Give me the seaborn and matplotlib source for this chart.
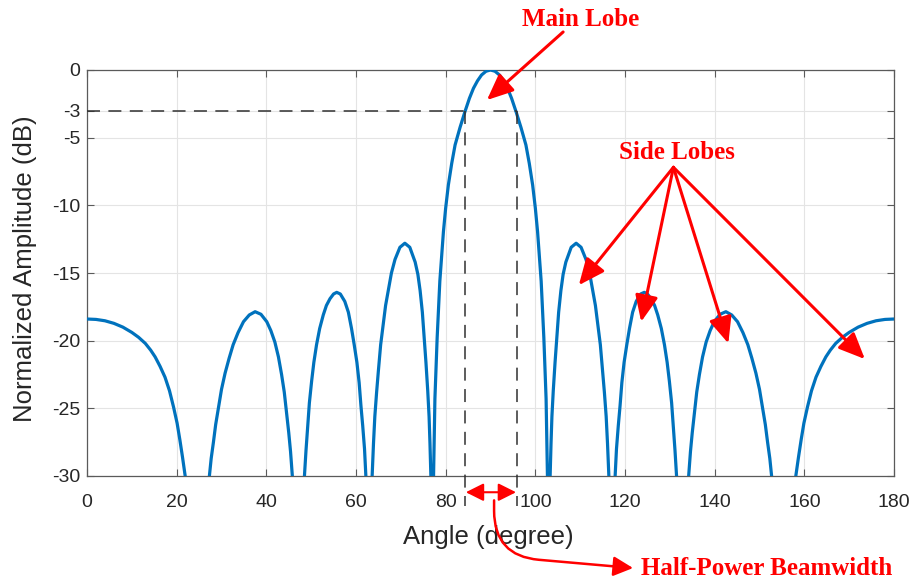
import matplotlib
matplotlib.use("Agg")
import matplotlib.pyplot as plt
import pandas as pd
import seaborn as sns

# ---- data ----
# left half of the pattern (0 .. 90 degrees); -45 marks nulls below the axis floor
angle_left = [0.0, 2.0, 4.0, 6.0, 8.0, 10.0, 11.5, 13.0, 14.2, 15.2, 16.3, 17.4, 18.4, 19.3,
              20.1, 20.7, 21.3, 21.9, 24.6,
              27.3, 27.7, 28.2, 28.7, 29.3, 30.0, 30.8, 31.7, 32.6, 33.7, 34.9, 36.2, 37.5,
              38.8, 40.1, 41.0, 41.9, 42.7, 43.4, 44.0, 44.5, 45.0, 45.4, 45.8, 47.1,
              48.5, 48.85, 49.2, 49.6, 50.1, 50.6, 51.2, 51.9, 52.7, 53.4, 54.2, 55.0, 55.7,
              56.5, 57.5, 58.3, 59.0, 59.6, 60.2, 60.7, 61.1, 61.5, 61.9, 62.2, 62.9,
              63.6, 63.9, 64.2, 64.6, 65.0, 65.5, 66.1, 66.6, 67.2, 67.9, 68.7, 69.8, 70.9,
              72.0, 73.2, 73.8, 74.3, 74.8, 75.2, 75.6, 76.0, 76.3, 76.5, 76.7, 77.0,
              77.3, 77.6, 78.1, 78.7, 79.5, 80.0, 80.6, 81.35, 82.1, 83.2, 84.3, 85.3, 86.2,
              87.1, 88.0, 89.0, 90.0]
amp_left = [-18.40, -18.43, -18.53, -18.72, -19.0, -19.39, -19.75, -20.2, -20.7, -21.2, -21.9, -22.7, -23.7, -24.9,
            -26.1, -27.3, -28.6, -30.0, -45.0,
            -30.0, -28.7, -27.5, -26.2, -25.0, -23.6, -22.4, -21.3, -20.3, -19.4, -18.6, -18.1, -17.86,
            -18.05, -18.6, -19.25, -20.1, -21.2, -22.5, -23.8, -25.3, -26.8, -28.2, -30.0, -45.0,
            -30.0, -28.1, -26.5, -24.6, -23.0, -21.6, -20.3, -19.1, -18.1, -17.4, -16.9, -16.55, -16.43,
            -16.55, -17.1, -17.9, -19.1, -20.3, -21.6, -23.1, -24.8, -26.3, -28.0, -30.0, -45.0,
            -30.0, -27.6, -25.6, -23.8, -22.2, -20.3, -18.7, -17.4, -16.3, -15.0, -14.0, -13.1, -12.8,
            -13.1, -14.2, -15.1, -16.3, -17.9, -19.7, -21.6, -23.7, -25.6, -27.6, -30.0, -45.0,
            -30.0, -24.3, -19.8, -15.6, -11.95, -10.2, -8.5, -6.9, -5.54, -4.25, -3.08, -2.09, -1.35,
            -0.80, -0.37, -0.09, 0.0]
# right half of the pattern (90 .. 180 degrees)
angle_right = [91.0, 92.0, 92.9, 93.8, 94.7, 95.7, 96.8, 97.9, 98.65, 99.4, 100.0, 100.5, 101.3,
               101.9, 102.4, 102.7, 103.0,
               103.3, 103.5, 103.7, 104.0, 104.4, 104.8, 105.2, 105.7, 106.2, 106.8, 108.0, 109.1,
               110.2, 111.3, 112.1, 112.8, 113.4, 113.9, 114.5, 115.0, 115.4, 115.8, 116.1, 116.4, 117.1,
               117.8, 118.1, 118.5, 118.9, 119.3, 119.8, 120.4, 121.0, 121.7, 122.5, 123.5, 124.3,
               125.0, 125.8, 126.6, 127.3, 128.1, 128.8, 129.4, 129.9, 130.4, 130.8, 131.15, 131.5, 132.9,
               134.2, 134.6, 135.0, 135.5, 136.0, 136.6, 137.3, 138.1, 139.0, 139.9, 141.2, 142.5,
               143.8, 145.1, 146.3, 147.4, 148.3, 149.2, 150.0, 150.7, 151.3, 151.8, 152.3, 152.7, 155.4,
               158.1, 158.7, 159.3, 159.9, 160.7, 161.6, 162.6, 163.7, 164.8, 165.8, 167.0, 168.5,
               170.0, 172.0, 174.0, 176.0, 178.0, 180.0]
amp_right = [-0.09, -0.37, -0.80, -1.35, -2.09, -3.08, -4.25, -5.54, -6.9, -8.5, -10.2, -11.95, -15.6,
             -19.8, -24.3, -30.0, -45.0,
             -30.0, -27.6, -25.6, -23.7, -21.6, -19.7, -17.9, -16.3, -15.1, -14.2, -13.1, -12.8,
             -13.1, -14.0, -15.0, -16.3, -17.4, -18.7, -20.3, -22.2, -23.8, -25.6, -27.6, -30.0, -45.0,
             -30.0, -28.0, -26.3, -24.8, -23.1, -21.6, -20.3, -19.1, -17.9, -17.1, -16.55, -16.43,
             -16.55, -16.9, -17.4, -18.1, -19.1, -20.3, -21.6, -23.0, -24.6, -26.5, -28.1, -30.0, -45.0,
             -30.0, -28.2, -26.8, -25.3, -23.8, -22.5, -21.2, -20.1, -19.25, -18.6, -18.05, -17.86,
             -18.1, -18.6, -19.4, -20.3, -21.3, -22.4, -23.6, -25.0, -26.2, -27.5, -28.7, -30.0, -45.0,
             -30.0, -28.6, -27.3, -26.1, -24.9, -23.7, -22.7, -21.9, -21.2, -20.7, -20.2, -19.75,
             -19.39, -19.0, -18.72, -18.53, -18.43, -18.40]
x_ticks = [0, 20, 40, 60, 80, 100, 120, 140, 160, 180]
y_ticks = [0, -3, -5, -10, -15, -20, -25, -30]
y_tick_labels = ["0", "-3", "-5", "-10", "-15", "-20", "-25", "-30"]
half_power_db = -3
hpbw_left = 84.4
hpbw_right = 96.0

assert len(angle_left) == len(amp_left) and len(angle_right) == len(amp_right)

sns.set_theme(style="whitegrid")
plt.rcParams['font.family'] = ['Liberation Sans', 'DejaVu Sans']

fig = plt.figure(figsize=(9.15, 5.83), dpi=100)
fig.patch.set_facecolor('white')
ax = fig.add_axes([87 / 915, 1 - 476 / 583, 807 / 915, 406 / 583])
ax.set_facecolor('white')

df = pd.DataFrame({'angle': angle_left + angle_right, 'amp': amp_left + amp_right})
sns.lineplot(data=df, x='angle', y='amp', ax=ax, color='#0072BD', lw=2.3,
             sort=False, estimator=None, zorder=3)
ax.lines[-1].set_solid_joinstyle('round')

ax.set_xlim(0, 180)
ax.set_ylim(-30, 0)
ax.set_xticks(x_ticks)
ax.set_yticks(y_ticks)
ax.set_yticklabels(y_tick_labels)
ax.grid(True, color='#e4e4e4', lw=0.8)
ax.set_axisbelow(True)
for s in ax.spines.values():
    s.set_visible(True)
    s.set_color('#5a5a5a')
    s.set_linewidth(0.9)
ax.tick_params(direction='in', length=5, width=0.8, color='#5a5a5a',
               top=True, right=True, bottom=True, left=True,
               labelsize=14, labelcolor='#262626')
ax.tick_params(axis='x', pad=13)
ax.tick_params(axis='y', pad=5)

ax.set_xlabel('Angle (degree)', fontsize=18.5, color='#262626')
ax.set_ylabel('Normalized Amplitude (dB)', fontsize=18.5, color='#262626')
ax.xaxis.set_label_coords(0.497, -0.12)
ax.yaxis.set_label_coords(-0.062, 0.51)

# dashed half-power guides
dash = (0, (8.5, 5.5))
ax.plot([0, hpbw_right], [half_power_db, half_power_db], ls=dash, color='#303030', lw=1.1, zorder=4)
for xv in (hpbw_left, hpbw_right):
    ax.plot([xv, xv], [half_power_db, -32.2], ls=dash, color='#303030', lw=1.1,
            zorder=4, clip_on=False)

red = '#ff0000'
serif = ['Liberation Serif', 'DejaVu Serif']

# half-power beamwidth arrows
ax.annotate('', xy=(hpbw_left + 0.1, -31.2), xytext=(hpbw_right - 0.3, -31.2),
            arrowprops=dict(arrowstyle='<|-|>,head_length=0.6,head_width=0.3', color=red,
                            lw=1.5, mutation_scale=18, shrinkA=0, shrinkB=0),
            annotation_clip=False, zorder=6)
ax.annotate('', xy=(121.8, -36.8), xytext=(90.8, -31.8),
            arrowprops=dict(arrowstyle='-|>,head_length=0.6,head_width=0.3', color=red,
                            lw=1.8, mutation_scale=20, shrinkA=0, shrinkB=0,
                            connectionstyle='angle,angleA=-90,angleB=-5,rad=45'),
            annotation_clip=False, zorder=6)
ax.text(123.6, -36.8, 'Half-Power Beamwidth', color=red, fontsize=18, fontweight='bold',
        family=serif, ha='left', va='center', clip_on=False)

# main lobe
ax.text(110.2, 3.7, 'Main Lobe', color=red, fontsize=18, fontweight='bold',
        family=serif, ha='center', va='center', clip_on=False)
ax.annotate('', xy=(89.2, -2.22), xytext=(106.2, 2.81),
            arrowprops=dict(arrowstyle='-|>,head_length=0.8,head_width=0.35', color=red,
                            lw=2.2, mutation_scale=20, shrinkA=0, shrinkB=0),
            annotation_clip=False, zorder=6)

# side lobes
ax.text(131.6, -6.06, 'Side Lobes', color=red, fontsize=18, fontweight='bold',
        family=serif, ha='center', va='center', clip_on=False, zorder=6)
for tx, ty in [(109.7, -15.9), (123.6, -18.6), (143.05, -20.2), (173.5, -21.36)]:
    ax.annotate('', xy=(tx, ty), xytext=(130.8, -7.19),
                arrowprops=dict(arrowstyle='-|>,head_length=0.8,head_width=0.35', color=red,
                                lw=2.2, mutation_scale=20, shrinkA=0, shrinkB=0),
                annotation_clip=False, zorder=6)

fig.savefig('out.png', dpi=100, facecolor='white')
